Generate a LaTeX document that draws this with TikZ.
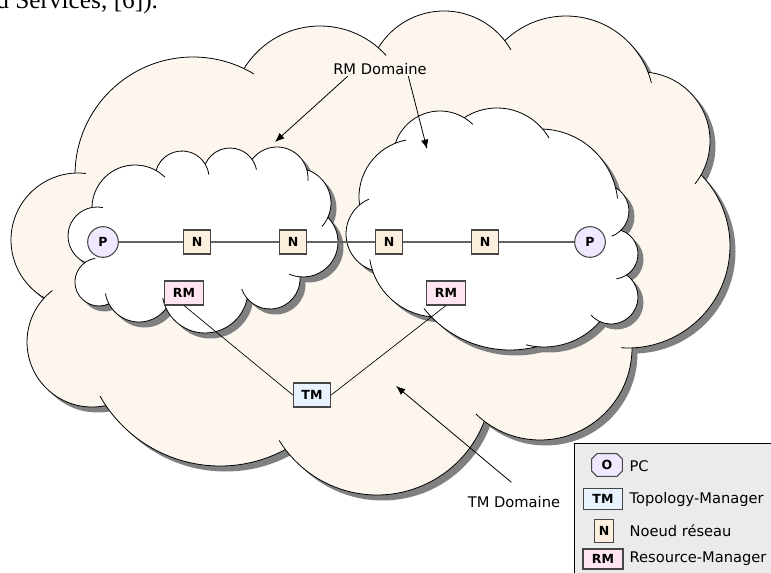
\documentclass[tikz,border=0pt]{standalone}
\usepackage{fontspec}
\setmainfont{DejaVu Sans}
\newfontfamily\docserif{Liberation Serif}
\usepackage{tikz}
\usetikzlibrary{arrows.meta,shapes.misc}
\definecolor{tmcloud}{RGB}{253,246,239}
\definecolor{pcfill}{RGB}{240,232,255}
\definecolor{nfill}{RGB}{253,239,222}
\definecolor{rmfill}{RGB}{255,229,241}
\definecolor{tmfill}{RGB}{233,243,255}
\definecolor{legendfill}{RGB}{235,235,235}
\definecolor{boxline}{RGB}{70,70,70}
\definecolor{linkline}{RGB}{100,100,100}
\tikzset{>=Latex}
\tikzset{
  box/.style={draw=boxline,line width=0.8pt,inner sep=0pt,minimum height=18pt,
    font=\fontsize{9.4}{10}\selectfont\bfseries},
  pc/.style={box,circle,fill=pcfill,minimum size=23pt},
  noeud/.style={box,fill=nfill,minimum width=20pt},
  rm/.style={box,fill=rmfill,minimum width=29pt},
  tm/.style={box,fill=tmfill,minimum width=28pt},
  link/.style={linkline,line width=1pt},
  manager/.style={black,line width=0.5pt},
  pointer/.style={-{Latex[length=7pt,width=5.5pt]},line width=0.6pt},
  label text/.style={font=\fontsize{11}{13}\selectfont,inner sep=1pt},
  cloud shadow/.style={fill=black!50},
  cloud line/.style={line width=0.6pt},
}
% lobes of the clouds: x, y, radius (pixels, clockwise)
\def\tmx{{193,320,444,566,641,628,540,377,220,92,78}}
\def\tmy{{175,115,88,104,141,246,348,380,328,342,240}}
\def\tmr{{118,89,77,88,69,102,92,115,138,65,67}}
\def\rmax{{97,135,182,230,277,296,303,270,205,139,99}}
\def\rmay{{236,208,178,175,178,203,242,279,290,288,282}}
\def\rmar{{29,43,27,27,31,35,35,30,43,34,24}}
\def\rmbx{{384,417,440,497,540,602,613,611,544,510,437}}
\def\rmby{{234,197,158,168,207,211,254,297,273,240,249}}
\def\rmbr{{38,58,47,60,78,27,25,27,74,110,68}}
\newcommand{\cloudhook}{11}
\newcommand{\drawcloud}[5]{%
  \pgfmathtruncatemacro\cloudlast{#4-1}
  \begin{scope}[shift={(5.5,5.5)}]
    \foreach \k in {0,...,\cloudlast}
      \fill[cloud shadow] ({#1[\k]},{#2[\k]}) circle[radius={#3[\k]}];
    \fill[cloud shadow] ({#1[0]},{#2[0]}) \foreach \k in {1,...,\cloudlast}{ -- ({#1[\k]},{#2[\k]}) } -- cycle;
  \end{scope}
  \foreach \k in {0,...,\cloudlast}
    \fill[#5] ({#1[\k]},{#2[\k]}) circle[radius={#3[\k]}];
  \fill[#5] ({#1[0]},{#2[0]}) \foreach \k in {1,...,\cloudlast}{ -- ({#1[\k]},{#2[\k]}) } -- cycle;
  \foreach \k in {0,...,\cloudlast}{
    \pgfmathtruncatemacro\kp{mod(\k+#4-1,#4)}
    \pgfmathtruncatemacro\kn{mod(\k+1,#4)}
    \pgfmathsetmacro\lx{#1[\k]}
    \pgfmathsetmacro\ly{#2[\k]}
    \pgfmathsetmacro\lr{#3[\k]}
    \pgfmathsetmacro\prevx{#1[\kp]}
    \pgfmathsetmacro\prevy{#2[\kp]}
    \pgfmathsetmacro\prevr{#3[\kp]}
    \pgfmathsetmacro\nextx{#1[\kn]}
    \pgfmathsetmacro\nexty{#2[\kn]}
    \pgfmathsetmacro\nextr{#3[\kn]}
    \pgfmathsetmacro\prevd{veclen((\prevx-\lx)/100,(\prevy-\ly)/100)*100}
    \pgfmathsetmacro\nextd{veclen((\nextx-\lx)/100,(\nexty-\ly)/100)*100}
    \pgfmathsetmacro\cloudsa{atan2(\prevy-\ly,\prevx-\lx)+acos(min(1,max(-1,(\prevd/\lr+\lr/\prevd-(\prevr/\prevd)*(\prevr/\lr))/2)))}
    \pgfmathsetmacro\cloudea{atan2(\nexty-\ly,\nextx-\lx)-acos(min(1,max(-1,(\nextd/\lr+\lr/\nextd-(\nextr/\nextd)*(\nextr/\lr))/2)))}
    \pgfmathsetmacro\cloudea{\cloudsa+mod(\cloudea-\cloudsa+720,360)+\cloudhook/\lr*57.2958}
    \draw[cloud line] (\lx,\ly) ++(\cloudsa:\lr) arc[start angle=\cloudsa,end angle=\cloudea,radius=\lr];
  }
}
\begin{document}
\begin{tikzpicture}[x=0.75pt,y=-0.75pt]
  \useasboundingbox (0,0) rectangle (771,573);
  \node[font=\docserif\fontsize{19}{21}\selectfont,anchor=base west,inner sep=0pt] (doc) at (-4,9) {d Services, [6]).};
  % domaines
  \drawcloud{\tmx}{\tmy}{\tmr}{11}{fill=tmcloud}
  \drawcloud{\rmax}{\rmay}{\rmar}{11}{fill=white}
  \drawcloud{\rmbx}{\rmby}{\rmbr}{11}{fill=white}
  % reseau
  \node[pc] (p1) at (103,242) {P};
  \node[noeud] (n1) at (197,242) {N};
  \node[noeud] (n2) at (293,242) {N};
  \node[noeud] (n3) at (389,242) {N};
  \node[noeud] (n4) at (485,242) {N};
  \node[pc] (p2) at (590,242) {P};
  \node[rm] (rma) at (184,293) {RM};
  \node[rm] (rmb) at (446,293) {RM};
  \node[tm] (tm) at (312,395) {TM};
  \draw[link] (p1) -- (n1) -- (n2) -- (n3) -- (n4) -- (p2);
  \draw[manager] (rma.south) -- (tm.west);
  \draw[manager] (tm.east) -- (rmb.south);
  % labels
  \node[label text] (rmdom) at (380,69) {RM Domaine};
  \node[label text,anchor=base] (tmdom) at (514,507) {TM Domaine};
  \coordinate (rmtipa) at (275,142);
  \coordinate (rmtipb) at (427,149);
  \coordinate (tmtip) at (396,386);
  \draw[pointer] ([xshift=12pt]rmdom.south west) -- (rmtipa);
  \draw[pointer] ([xshift=-15pt]rmdom.south east) -- (rmtipb);
  \draw[pointer] ([xshift=-2pt,yshift=9pt]tmdom.north) -- (tmtip);
  % legende
  \draw[fill=legendfill,line width=0.6pt] (574,443) rectangle (790,590);
  \node[box,chamfered rectangle,chamfered rectangle xsep=2pt,chamfered rectangle ysep=2pt,
    fill=pcfill,minimum width=23pt,minimum height=17pt] (legpc) at (607,465) {O};
  \node[tm,minimum width=29pt,minimum height=16pt] (legtm) at (603,499) {TM};
  \node[noeud,minimum width=14pt,minimum height=17pt] (legn) at (604,531) {N};
  \node[rm,minimum width=30pt,minimum height=15pt] (legrm) at (603,559) {RM};
  \node[label text,anchor=west] (legpctext) at (628,466) {PC};
  \node[label text,anchor=west] (legtmtext) at (628,499) {Topology-Manager};
  \node[label text,anchor=west] (legntext) at (628,531) {Noeud réseau};
  \node[label text,anchor=west] (legrmtext) at (628,559) {Resource-Manager};
\end{tikzpicture}
\end{document}
